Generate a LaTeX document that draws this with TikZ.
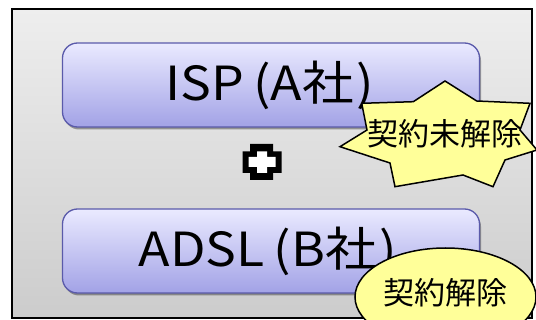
\documentclass[tikz,border=0pt]{standalone}
\usepackage{fontspec}
\setmainfont{Noto Sans CJK JP}
\newfontfamily\layerfont{Noto Sans CJK JP}[FakeStretch=1.1]
\usetikzlibrary{shapes.geometric,shadows}
\definecolor{panelTop}{HTML}{EEEEEE}
\definecolor{panelBot}{HTML}{CCCCCC}
\definecolor{layerTop}{HTML}{EAEAFF}
\definecolor{layerBot}{HTML}{A2A2E6}
\definecolor{layerEdge}{HTML}{5A5AAA}
\definecolor{noteFill}{HTML}{FFFF99}
\newcommand{\opn}{\hspace{9pt}(}
\tikzset{
  panel/.style={draw=black, line width=1.5pt, top color=panelTop, bottom color=panelBot},
  layer/.style={draw=layerEdge, line width=1.3pt, rounded corners=15pt,
    top color=layerTop, bottom color=layerBot,
    minimum width=417pt, minimum height=84pt, inner sep=0pt,
    drop shadow={shadow xshift=1.5pt, shadow yshift=-2.5pt, opacity=0.35, fill=black}},
  layertext/.style={inner sep=0pt, font=\layerfont\fontsize{47pt}{52pt}\selectfont},
  note/.style={draw=black, line width=1.5pt, fill=noteFill},
  notetext/.style={font=\fontsize{31pt}{34pt}\selectfont, inner sep=0pt}
}
\begin{document}
\begin{tikzpicture}[x=1pt, y=-1pt]
\useasboundingbox (0,0) rectangle (536,320);
\clip (0,0) rectangle (536,320);

% background panel
\draw[panel] (12,9) rectangle (532,318);

% the two service layers
\node[layer] (isp) at (271,85) {};
\node[layertext] (isptxt) at (270,85) {ISP\opn A社\hspace{3pt})};
\node[layer] (adsl) at (271,251) {};
\node[layertext] (adsltxt) at (268,251) {ADSL\opn B社\hspace{3pt})};

% plus sign between the layers
\fill[black] (250,144) -- (273,144) -- (273,151.5) -- (281.5,151.5) -- (281.5,173)
  -- (273,173) -- (273,180) -- (250,180) -- (250,173) -- (242.5,173)
  -- (242.5,151.5) -- (250,151.5) -- cycle;
\fill[white] (257,151.5) -- (267,151.5) -- (267,157) -- (275.5,157) -- (275.5,167)
  -- (267,167) -- (267,173) -- (257,173) -- (257,167) -- (248.5,167)
  -- (248.5,157) -- (257,157) -- cycle;

% burst: contract not cancelled
\draw[note, line join=miter] (445,81) -- (476.7,101) -- (530,103.3) -- (520,130)
  -- (537,150) -- (505,160) -- (493,186.7) -- (463,175) -- (395,186.7)
  -- (390,163) -- (340,146.7) -- (367,130) -- (361.7,103.3) -- (413.3,101.7) -- cycle;
\node[notetext] (keep) at (445,134) {契約未解除};

% oval: contract cancelled
\node[note, ellipse, minimum width=181pt, minimum height=98pt, inner sep=0pt] (cancel) at (445.5,297) {};
\node[notetext] (canceltxt) at (445,293) {契約解除};
\end{tikzpicture}
\end{document}
